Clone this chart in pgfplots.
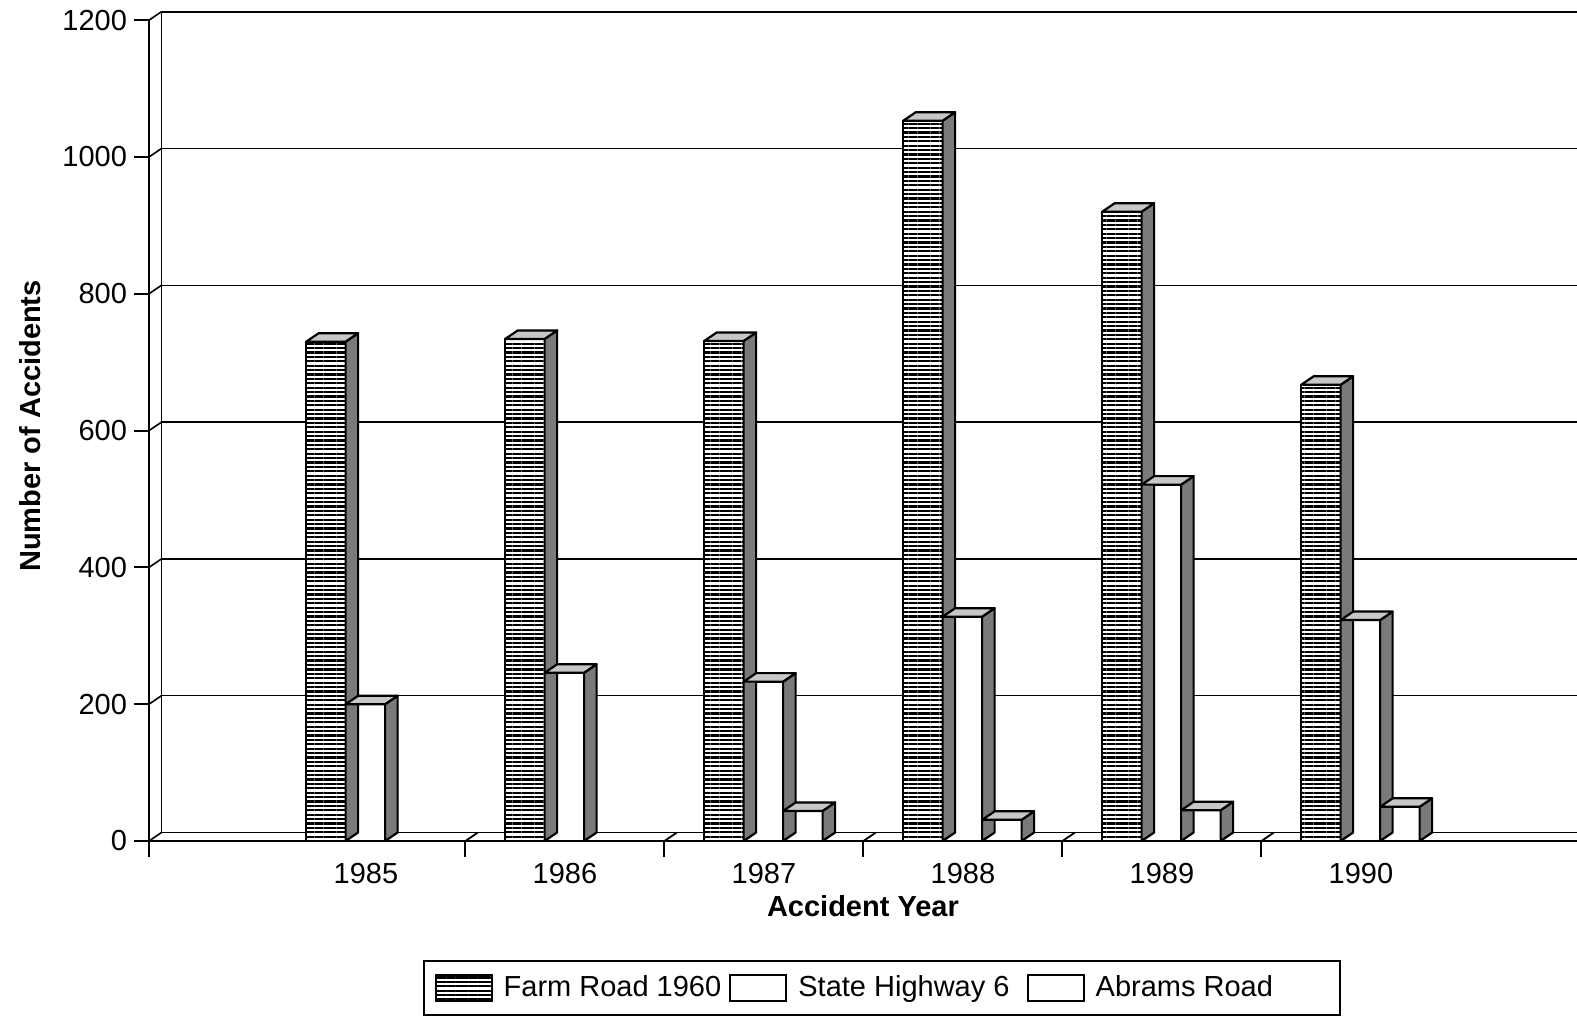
\documentclass[border=0pt]{standalone}
\usepackage{pgfplots}
\pgfplotsset{compat=1.18}
\usepackage{pgfplotstable}
\usepackage{fontspec}
\setmainfont{Liberation Sans}
\usetikzlibrary{patterns.meta}

\newcommand\fs{\fontsize{14.5}{17.5}\selectfont}

% depth of the pseudo-3D box and half width of a bar
\newcommand\barhalf{9.85pt}
\newcommand\depthx{6.25pt}
\newcommand\depthy{4.25pt}

% side and top face of a bar, drawn from the centre of its front top edge;
% \barval is the bar's value, 0.342pt is the y unit of the axis
\pgfdeclareplotmark{bar3d}{%
  \pgfmathsetlengthmacro\bh{0.342pt*\barval}%
  \pgfsetlinewidth{1.1pt}%
  \pgfsetroundjoin
  \pgfsetstrokecolor{black}%
  \pgfsetfillcolor{black!52}%
  \pgfpathmoveto{\pgfpoint{\barhalf}{0pt}}%
  \pgfpathlineto{\pgfpoint{\barhalf+\depthx}{\depthy}}%
  \pgfpathlineto{\pgfpoint{\barhalf+\depthx}{\depthy-\bh}}%
  \pgfpathlineto{\pgfpoint{\barhalf}{-\bh}}%
  \pgfpathclose
  \pgfusepath{fill,stroke}%
  \pgfsetfillcolor{black!22}%
  \pgfpathmoveto{\pgfpoint{-\barhalf}{0pt}}%
  \pgfpathlineto{\pgfpoint{-\barhalf+\depthx}{\depthy}}%
  \pgfpathlineto{\pgfpoint{\barhalf+\depthx}{\depthy}}%
  \pgfpathlineto{\pgfpoint{\barhalf}{0pt}}%
  \pgfpathclose
  \pgfusepath{fill,stroke}%
}

% accidents per year on each road (x: 0 = 1985)
\pgfplotstableread{
x farm state abrams
0 730  200 0
1 734  246 0
2 731  233 44
3 1053 328 31
4 920  521 45
5 667  323 50
}\accidents

\tikzset{hatch/.style={pattern={Lines[angle=0,distance=2.2pt,line width=1.1pt]}, pattern color=black}}

\begin{document}
\begin{tikzpicture}
\begin{axis}[
  at={(0,0)}, anchor=south west,
  x=99.5pt, y=0.342pt,
  xmin=-1.09, xmax=6.085, ymin=0, ymax=1200,
  clip=false,
  axis x line*=bottom, axis y line*=left,
  axis line style={line width=1.2pt, black},
  xtick={0,1,2,3,4,5},
  xticklabels={1985,1986,1987,1988,1989,1990},
  major x tick style={draw=none},
  ytick={0,200,400,600,800,1000,1200},
  tick align=outside,
  major tick length=7.5pt,
  major y tick style={line width=1pt, black},
  tick label style={font=\fs},
  /pgf/number format/1000 sep={},
  /pgf/number format/assume math mode=true,
  xlabel={Accident Year},
  ylabel={Number of Accidents},
  label style={font=\fs\bfseries},
  xlabel style={at={(axis description cs:0.5,-0.0792)}, anchor=center},
  ylabel style={at={(axis description cs:-0.0833,0.5055)}, anchor=center},
  legend columns=3,
  legend style={
    at={(axis description cs:0.1916,-0.1788)}, anchor=west,
    draw=black, line width=1pt, font=\fs,
    inner xsep=5.5pt, inner ysep=5.5pt,
    /tikz/every even column/.append style={column sep=2pt},
  },
]
% back wall, its grid lines and the floor
\draw[line width=0.9pt, xshift=\depthx, yshift=\depthy]
  (axis cs:-1.09,0) -- (axis cs:-1.09,1200) -- (axis cs:6.3,1200);
\draw[line width=0.8pt, xshift=\depthx, yshift=\depthy]
  (axis cs:-1.09,0) -- (axis cs:6.3,0);
\pgfplotsinvokeforeach{200,400,600,800,1000}{
  \draw[line width=0.65pt, xshift=\depthx, yshift=\depthy]
    (axis cs:-1.09,#1) -- (axis cs:6.3,#1);
}
\pgfplotsinvokeforeach{0,200,400,600,800,1000,1200}{
  \draw[line width=0.8pt] (axis cs:-1.09,#1) -- ++(\depthx,\depthy);
}
\pgfplotsinvokeforeach{0.5,1.5,2.5,3.5,4.5}{
  \draw[line width=0.9pt] (axis cs:#1,0) -- ++(\depthx,\depthy);
  \draw[line width=1pt] (axis cs:#1,0) -- ++(0pt,-8pt);
}
\draw[line width=1.2pt] (axis cs:-1.09,0) -- ++(0pt,-8pt);

% Farm Road 1960
\addplot[ybar, bar width=19.7pt, bar shift=-20pt, draw=black, line width=1.1pt,
  fill=white, postaction={hatch},
  legend image code/.code={\draw[line width=1pt, fill=white, postaction={hatch}] (0pt,-6.5pt) rectangle (28pt,6.5pt); \path (31.5pt,0pt);}]
  table[x=x, y=farm] {\accidents};
\addlegendentry{Farm Road 1960}
\addplot[forget plot, only marks, mark=bar3d,
  visualization depends on={\thisrow{farm} \as \barval}]
  table[x expr=\thisrow{x}-0.2010, y=farm] {\accidents};

% State Highway 6
\addplot[ybar, bar width=19.7pt, bar shift=-0.25pt, draw=black, line width=1.1pt, fill=white,
  legend image code/.code={\draw[line width=1pt, fill=white] (0pt,-6.5pt) rectangle (28pt,6.5pt); \path (31.5pt,0pt);}]
  table[x=x, y=state] {\accidents};
\addlegendentry{State Highway 6\kern4.5pt\null}
\addplot[forget plot, only marks, mark=bar3d,
  visualization depends on={\thisrow{state} \as \barval}]
  table[x expr=\thisrow{x}-0.0025, y=state] {\accidents};

% Abrams Road (no bars for 1985 and 1986)
\addplot[ybar, bar width=19.7pt, bar shift=19.5pt, draw=black, line width=1.1pt, fill=white,
  unbounded coords=discard, y filter/.expression={y<=0 ? nan : y},
  legend image code/.code={\draw[line width=1pt, fill=white] (0pt,-6.5pt) rectangle (28pt,6.5pt); \path (31.5pt,0pt);}]
  table[x=x, y=abrams] {\accidents};
\addlegendentry{Abrams Road\kern26pt\null}
\addplot[forget plot, only marks, mark=bar3d,
  unbounded coords=discard, y filter/.expression={y<=0 ? nan : y},
  visualization depends on={\thisrow{abrams} \as \barval}]
  table[x expr=\thisrow{x}+0.1960, y=abrams] {\accidents};
\end{axis}
\pgfresetboundingbox
\path[use as bounding box] (-74.5pt,-88pt) rectangle (714pt,420.5pt);
\end{tikzpicture}
\end{document}
